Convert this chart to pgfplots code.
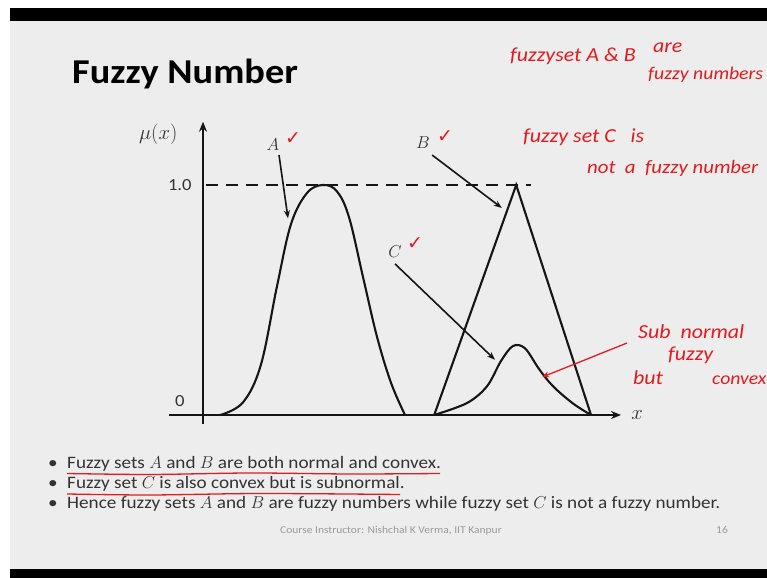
\documentclass[border=0pt]{standalone}
\usepackage{fontspec}
\setmainfont{Carlito}[FakeStretch=1.1]
\newfontfamily\symfont{DejaVu Sans}
\usepackage{pgfplots}
\pgfplotsset{compat=1.18}
\usetikzlibrary{arrows.meta}
\definecolor{slide}{HTML}{EDEDED}
\definecolor{ink}{HTML}{151515}
\definecolor{txt}{HTML}{333333}
\definecolor{pen}{HTML}{E11B1F}
\definecolor{foot}{HTML}{9A9A9A}

\newcommand{\tick}{{\symfont\color{pen}\fontsize{19}{19}\selectfont ✓}}

\begin{document}
\begin{tikzpicture}[x=1bp,y=1bp]
\clip (0,0) rectangle (767,578);
% frame of the slide
\fill[white] (0,0) rectangle (767,578);
\fill[slide] (10,9) rectangle (767,557);
\fill[black] (10,557) rectangle (767,570);
\fill[black] (10,0) rectangle (767,9);

% title
\node[anchor=base west, inner sep=0, font=\fontsize{35}{40}\selectfont\bfseries, text=black]
  at (72,494) {Fuzzy Number};

\begin{axis}[
  at={(203bp,163bp)}, anchor=origin,
  x=40bp, y=230bp,
  xmin=-1, xmax=10.5, ymin=-0.05, ymax=1.3,
  hide axis, clip=false,
]
% axes with arrow heads
\draw[ink, line width=2bp, -{Stealth[length=10bp,width=8bp]}]
  (axis cs:-0.85,0) -- (axis cs:10.45,0);
\draw[ink, line width=2bp, -{Stealth[length=10bp,width=8bp]}]
  (axis cs:0,-0.04) -- (axis cs:0,1.275);
% height 1.0
\addplot[ink, line width=2bp, dash pattern=on 12bp off 8bp]
  coordinates {(0.08,1) (8.2,1)};

% fuzzy set A
\addplot[ink, line width=2.1bp, smooth, tension=0.6] coordinates {
  (0.43,0) (1.0,0.055) (1.45,0.22) (1.85,0.56) (2.2,0.83) (2.6,0.965)
  (3.0,1.0) (3.35,0.972) (3.65,0.86) (4.0,0.6) (4.35,0.34) (4.7,0.14) (5.05,0)
};
% fuzzy set B (triangular)
\addplot[ink, line width=2.1bp] coordinates {(5.78,0) (7.83,1) (9.7,0)};
% fuzzy set C (subnormal)
\addplot[ink, line width=2.1bp, smooth, tension=0.55] coordinates {
  (5.78,0) (6.6,0.052) (7.1,0.125) (7.45,0.235) (7.75,0.3) (8.05,0.29)
  (8.4,0.2) (8.75,0.125) (9.25,0.05) (9.7,0)
};

% labels and pointers
\node[font=\fontsize{20}{20}\selectfont, text=txt] at (axis cs:-1.12,1.22) {$\mu(x)$};
\node[font=\fontsize{17}{17}\selectfont, text=txt] at (axis cs:-0.58,1.0) {1.0};
\node[font=\fontsize{17}{17}\selectfont, text=txt] at (axis cs:-0.58,0.06) {0};
\node[font=\fontsize{20}{20}\selectfont, text=txt] at (axis cs:10.85,0.0) {$x$};

\node[font=\fontsize{19}{19}\selectfont, text=txt] at (axis cs:1.75,1.175) {$A$};
\node[font=\fontsize{19}{19}\selectfont, text=txt] at (axis cs:5.5,1.183) {$B$};
\node[font=\fontsize{19}{19}\selectfont, text=txt] at (axis cs:4.8,0.709) {$C$};
\node at (axis cs:2.25,1.2) {\tick};
\node at (axis cs:6.05,1.21) {\tick};
\node at (axis cs:5.3,0.745) {\tick};

\draw[ink, line width=1.6bp, -{Stealth[length=8bp,width=6bp]}]
  (axis cs:1.9,1.13) -- (axis cs:2.125,0.855);
\draw[ink, line width=1.6bp, -{Stealth[length=8bp,width=6bp]}]
  (axis cs:5.73,1.13) -- (axis cs:7.47,0.9);
\draw[ink, line width=1.6bp, -{Stealth[length=8bp,width=6bp]}]
  (axis cs:4.8,0.657) -- (axis cs:7.3,0.24);
\draw[pen, line width=1.3bp, -{Stealth[length=7bp,width=6bp]}]
  (axis cs:10.6,0.313) -- (axis cs:8.48,0.165);
\end{axis}

% handwritten remarks
\begin{scope}[every node/.style={anchor=west, inner sep=0, text=pen,
    font=\fontsize{20}{20}\selectfont\itshape}]
\node at (510,522) {fuzzyset A \& B};
\node at (653,530) {are};
\node[font=\fontsize{18}{18}\selectfont\itshape] at (648,503) {fuzzy numbers};
\node at (523,441) {fuzzy set C\ \ \ is};
\node[font=\fontsize{19}{19}\selectfont\itshape] at (587,410) {not \ a \ fuzzy number};
\node at (638,246) {Sub \ normal};
\node at (668,223) {fuzzy};
\node at (633,200) {but};
\node[font=\fontsize{18}{18}\selectfont\itshape] at (712,198) {convex};
\end{scope}

% bullet points
\begin{scope}[every node/.style={anchor=base west, inner sep=0, text=txt,
    font=\fontsize{17.5}{20}\selectfont}]
\node at (48,109) {•};
\node at (48,89) {•};
\node at (48,69) {•};
\node at (67,109) {Fuzzy sets $A$ and $B$ are both normal and convex.};
\node at (67,89) {Fuzzy set $C$ is also convex but is subnormal.};
\node at (67,69) {Hence fuzzy sets $A$ and $B$ are fuzzy numbers while fuzzy set $C$ is not a fuzzy number.};
\end{scope}
\draw[pen, line width=1.3bp] plot[smooth] coordinates {(67,104.5) (150,103.5) (250,105) (350,104) (440,104.5)};
\draw[pen, line width=1.3bp] plot[smooth] coordinates {(67,84) (150,83) (260,84.5) (400,83.5)};

% footer
\node[anchor=base, inner sep=0, text=foot, font=\fontsize{10.5}{12}\selectfont] at (391,44)
  {Course Instructor: Nishchal K Verma, IIT Kanpur};
\node[anchor=base, inner sep=0, text=foot, font=\fontsize{10.5}{12}\selectfont] at (722,44) {16};
\end{tikzpicture}
\end{document}
